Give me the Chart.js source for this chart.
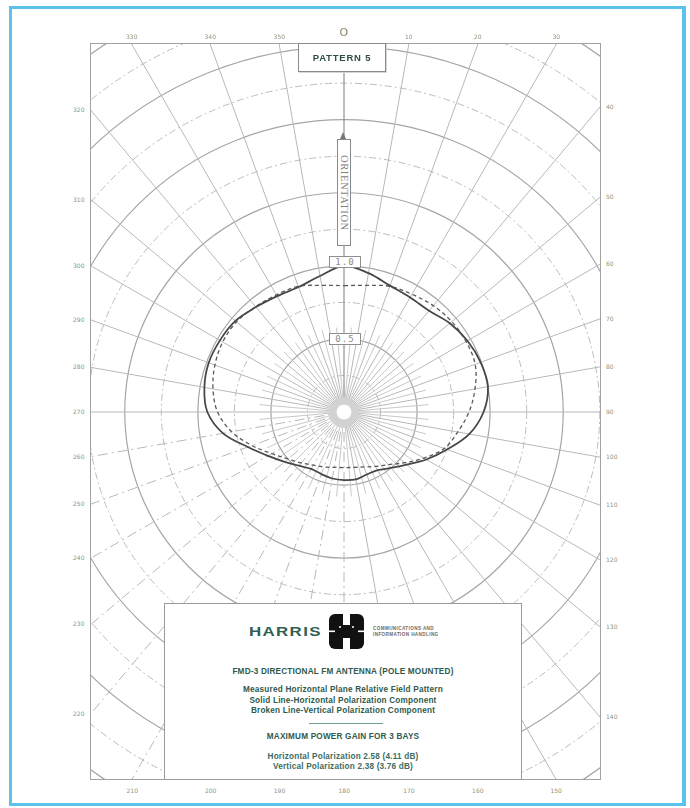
<!DOCTYPE html>
<html>
<head>
<meta charset="utf-8">
<script src="https://cdn.jsdelivr.net/npm/chart.js@4.4.1/dist/chart.umd.min.js"></script>
<style>
  html, body { margin: 0; padding: 0; background: #fff; }
  body { width: 690px; height: 808px; position: relative; overflow: hidden; font-family: "Liberation Sans", Arial, sans-serif; }
  #page { position: absolute; left: 9px; top: 6px; width: 670px; height: 794px; border: 3px solid #5cc2ec; border-right-width: 4px; }
  #plot { position: absolute; left: 90px; top: 43px; width: 509px; height: 735px; border: 1px solid #a2a2a2; overflow: hidden; }
  #plot canvas { position: absolute; left: -222px; top: -107px; }
  .flabel { position: absolute; font: 6px "DejaVu Sans", sans-serif; color: #8d967c; white-space: nowrap; line-height: 8px; }
  #zero { position: absolute; font: 11px "DejaVu Sans", sans-serif; color: #8c806a; line-height: 12px; }
  #patternBox { position: absolute; left: 298px; top: 43px; width: 86px; height: 27px; border: 1.5px solid #8a8a8a; background: #fff;
    box-shadow: 1px 1px 0 #d6d6d6; font: bold 9.5px "Liberation Sans", Arial, sans-serif; letter-spacing: 0.8px; color: #2f4f45;
    display: flex; align-items: center; justify-content: center; }
  #orient { position: absolute; left: 337px; top: 139px; width: 12px; height: 105px; border: 1px solid #8a8a8a; background: #fff;
    display: flex; align-items: center; justify-content: center; }
  #orient span { writing-mode: vertical-rl; font: 10.5px "Liberation Serif", serif; letter-spacing: 0.6px; color: #808080; }
  #arrow { position: absolute; left: 340px; top: 132px; width: 0; height: 0; border-left: 3.5px solid transparent; border-right: 3.5px solid transparent; border-bottom: 7px solid #777; }
  .valbox { position: absolute; left: 329px; width: 30px; height: 10px; border: 1px solid #8e8e8e; background: #fff;
    font: 9px "DejaVu Sans Mono", monospace; color: #8a8a8a; line-height: 10px; text-align: center; letter-spacing: 1px; }
  #legendBox { position: absolute; left: 164px; top: 603px; width: 356px; height: 175px; border: 1px solid #9a9a9a; background: #fff; }
  #legendBox .line { position: absolute; left: 0; width: 100%; text-align: center; font: bold 8.2px "Liberation Sans", Arial, sans-serif; letter-spacing: 0.2px; color: #2f5a4c; line-height: 9px; white-space: nowrap; }
  #harris { position: absolute; left: 84px; top: 21px; font: bold 12.5px "Liberation Sans", Arial, sans-serif; letter-spacing: 1px; color: #2f5f52; transform: scaleX(1.35); transform-origin: left center; }
  #logo { position: absolute; left: 164px; top: 10px; }
  #tag { position: absolute; left: 208px; top: 22px; font: bold 4.6px "Liberation Sans", Arial, sans-serif; color: #6a6a6a; line-height: 6px; letter-spacing: 0.4px; }
  #sep { position: absolute; left: 144px; top: 119px; width: 74px; height: 0; border-top: 1.5px solid #6f9e8e; }
</style>
</head>
<body>
<div id="page"></div>
<div id="plot"><canvas id="polar" width="950" height="950"></canvas></div>

<div id="arrow"></div>
<div id="orient"><span>ORIENTATION</span></div>
<div id="patternBox">PATTERN 5</div>
<div class="valbox" style="top:256px;">1.0</div>
<div class="valbox" style="top:333px;">0.5</div>

<div id="legendBox">
  <div id="harris">HARRIS</div>
  <svg id="logo" width="35" height="35" viewBox="0 0 35 35">
    <rect x="0" y="0" width="35" height="35" rx="6" fill="#111"/>
    <rect x="14" y="0" width="7" height="11" fill="#fff"/>
    <rect x="14" y="24" width="7" height="11" fill="#fff"/>
    <rect x="0" y="16.5" width="6" height="1.6" fill="#fff"/>
    <rect x="29" y="16.5" width="6" height="1.6" fill="#fff"/>
    <circle cx="11" cy="13" r="1" fill="#fff"/>
    <circle cx="24" cy="13" r="1" fill="#fff"/>
  </svg>
  <div id="tag">COMMUNICATIONS AND<br>INFORMATION HANDLING</div>
  <div class="line" style="top:63px;">FMD-3 DIRECTIONAL FM ANTENNA (POLE MOUNTED)</div>
  <div class="line" style="top:81px;">Measured Horizontal Plane Relative Field Pattern</div>
  <div class="line" style="top:92px;">Solid Line-Horizontal Polarization Component</div>
  <div class="line" style="top:102px;">Broken Line-Vertical Polarization Component</div>
  <div id="sep"></div>
  <div class="line" style="top:128px;">MAXIMUM POWER GAIN FOR 3 BAYS</div>
  <div class="line" style="top:148px; color:#3d6d5f;">Horizontal Polarization 2.58 (4.11 dB)</div>
  <div class="line" style="top:158px; color:#3d6d5f;">Vertical Polarization 2.38 (3.76 dB)</div>
</div>

<script>
// azimuth every 10 degrees, clockwise from the top
const angleLabels = ['0', '10', '20', '30', '40', '50', '60', '70', '80', '90', '100', '110',
  '120', '130', '140', '150', '160', '170', '180', '190', '200', '210', '220', '230',
  '240', '250', '260', '270', '280', '290', '300', '310', '320', '330', '340', '350'];

// relative field, solid line (horizontal polarization)
const horizontalPol = [1.00, 0.965, 0.92, 0.905, 0.905, 0.945, 0.975, 0.995, 1.00, 0.955, 0.87, 0.75,
  0.65, 0.56, 0.50, 0.46, 0.455, 0.468, 0.466, 0.462, 0.452, 0.45, 0.48, 0.53,
  0.60, 0.70, 0.84, 0.935, 0.97, 0.985, 0.98, 0.97, 0.937, 0.915, 0.91, 0.945];

// relative field, broken line (vertical polarization)
const verticalPol = [0.865, 0.88, 0.915, 0.93, 0.95, 0.962, 0.964, 0.955, 0.91, 0.855, 0.79, 0.73,
  0.63, 0.54, 0.47, 0.43, 0.40, 0.385, 0.38, 0.385, 0.40, 0.42, 0.455, 0.50,
  0.57, 0.67, 0.78, 0.865, 0.91, 0.94, 0.958, 0.96, 0.94, 0.925, 0.915, 0.88];

const scaleMax = 3.25;
const ringStep = 0.25;
const spokeReach = 0.58;

const isMajor = v => Math.abs(v * 2 - Math.round(v * 2)) < 1e-6;

const hubPlugin = {
  id: 'hub',
  beforeDatasetsDraw(chart) {
    const r = chart.scales.r;
    const ctx = chart.ctx;
    const outer = r.getDistanceFromCenterForValue(spokeReach);
    const half = Math.PI / angleLabels.length;
    ctx.save();
    ctx.strokeStyle = '#c8c8c8';
    ctx.lineWidth = 1;
    for (let i = 0; i < angleLabels.length; i++) {
      const a = r.getPointPosition(i, 8, half);
      const b = r.getPointPosition(i, outer, half);
      ctx.beginPath();
      ctx.moveTo(a.x, a.y);
      ctx.lineTo(b.x, b.y);
      ctx.stroke();
    }
    ctx.beginPath();
    ctx.arc(r.xCenter, r.yCenter, 11.5, 0, Math.PI * 2);
    ctx.lineWidth = 7;
    ctx.strokeStyle = '#d2d2d2';
    ctx.stroke();
    ctx.beginPath();
    ctx.arc(r.xCenter, r.yCenter, 7.5, 0, Math.PI * 2);
    ctx.fillStyle = '#fff';
    ctx.fill();
    ctx.restore();
  }
};

const chart = new Chart(document.getElementById('polar').getContext('2d'), {
  type: 'radar',
  data: {
    labels: angleLabels,
    datasets: [{
      label: 'Horizontal Polarization',
      data: horizontalPol,
      borderColor: '#474747',
      borderWidth: 1.8,
      fill: false,
      pointRadius: 0,
      tension: 0.35
    }, {
      label: 'Vertical Polarization',
      data: verticalPol,
      borderColor: '#5a5a5a',
      borderWidth: 1.3,
      borderDash: [4, 3],
      fill: false,
      pointRadius: 0,
      tension: 0.35
    }]
  },
  options: {
    responsive: false,
    animation: false,
    devicePixelRatio: 1,
    layout: { padding: 0 },
    plugins: { legend: { display: false }, tooltip: { enabled: false } },
    scales: {
      r: {
        min: 0,
        max: scaleMax,
        startAngle: 0,
        ticks: { display: false, stepSize: ringStep },
        pointLabels: { display: false },
        grid: {
          circular: true,
          color: c => isMajor(c.tick.value) ? '#a6a6a6' : '#bcbcbc',
          lineWidth: c => isMajor(c.tick.value) ? 1.2 : 1
        },
        border: {
          dash: c => isMajor(c.tick.value) ? [] : [7, 3, 2, 3]
        },
        angleLines: {
          color: c => c.index === 0 ? '#7c7c7c' : '#b8b8b8',
          lineWidth: 1,
          borderDash: c => (c.index >= 18 && c.index <= 26) ? [10, 4, 2, 4] : []
        }
      }
    }
  },
  plugins: [hubPlugin]
});

// azimuth labels where each 10-degree line meets the frame
(function placeFrameLabels() {
  const r = chart.scales.r;
  const cr = chart.canvas.getBoundingClientRect();
  const fr = document.getElementById('plot').getBoundingClientRect();
  const cx = cr.left + r.xCenter, cy = cr.top + r.yCenter;
  const L = fr.left + 1, R = fr.right - 1, T = fr.top + 1, B = fr.bottom - 1;
  angleLabels.forEach((txt, i) => {
    const ang = r.getIndexAngle(i);
    const dx = Math.sin(ang), dy = -Math.cos(ang);
    const cands = [];
    if (dx > 1e-9) cands.push([(R - cx) / dx, 'right']);
    if (dx < -1e-9) cands.push([(L - cx) / dx, 'left']);
    if (dy < -1e-9) cands.push([(T - cy) / dy, 'top']);
    if (dy > 1e-9) cands.push([(B - cy) / dy, 'bottom']);
    cands.sort((a, b) => a[0] - b[0]);
    const [t, side] = cands[0];
    const x = cx + dx * t, y = cy + dy * t;
    if (txt === '0') {
      const z = document.createElement('div');
      z.id = 'zero';
      z.textContent = 'O';
      document.body.appendChild(z);
      z.style.left = (x - z.offsetWidth / 2) + 'px';
      z.style.top = (T - 17) + 'px';
      return;
    }
    const el = document.createElement('div');
    el.className = 'flabel';
    el.textContent = txt;
    document.body.appendChild(el);
    const w = el.offsetWidth;
    if (side === 'top') { el.style.left = (x - w / 2) + 'px'; el.style.top = (T - 11) + 'px'; }
    if (side === 'bottom') { el.style.left = (x - w / 2) + 'px'; el.style.top = (B + 8) + 'px'; }
    if (side === 'right') { el.style.left = (R + 6) + 'px'; el.style.top = (y - 4) + 'px'; }
    if (side === 'left') { el.style.left = (L - 7 - w) + 'px'; el.style.top = (y - 4) + 'px'; }
  });
})();
</script>
</body>
</html>
